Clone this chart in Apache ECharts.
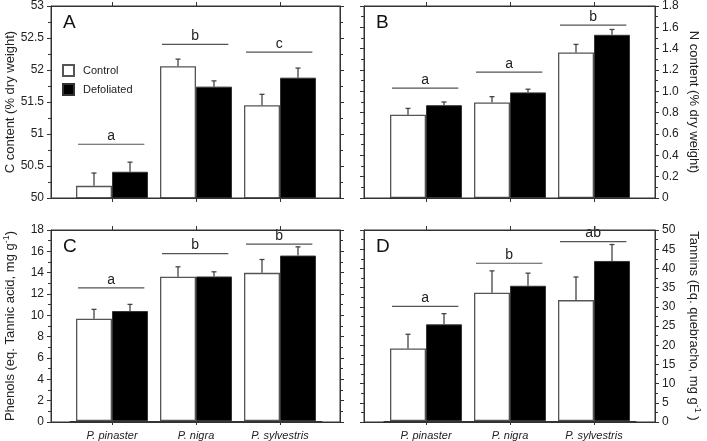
<!DOCTYPE html>
<html><head><meta charset="utf-8">
<script src="https://cdn.jsdelivr.net/npm/echarts@6/dist/echarts.min.js"></script>
<style>html,body{margin:0;padding:0;background:#fff}#c{width:707px;height:441px}</style>
</head><body><div id="c"></div>
<script>
// ---- data ----
const categories = ['P. pinaster', 'P. nigra', 'P. sylvestris'];
const seriesNames = ['Control', 'Defoliated'];

// Panel A: C content
const cControl = [50.19, 52.06, 51.45];
const cControlSE = [0.20, 0.11, 0.17];
const cDefol = [50.41, 51.74, 51.88];
const cDefolSE = [0.15, 0.09, 0.15];
const cSigY = [50.84, 52.40, 52.28];
const cSigLetters = ['a', 'b', 'c'];

// Panel B: N content
const nControl = [0.78, 0.895, 1.365];
const nControlSE = [0.06, 0.055, 0.075];
const nDefol = [0.87, 0.99, 1.53];
const nDefolSE = [0.03, 0.03, 0.05];
const nSigY = [1.03, 1.18, 1.62];
const nSigLetters = ['a', 'a', 'b'];

// Panel C: Phenols
const phControl = [9.64, 13.59, 13.96];
const phControlSE = [0.88, 0.94, 1.26];
const phDefol = [10.36, 13.62, 15.59];
const phDefolSE = [0.63, 0.44, 0.82];
const phSigY = [12.55, 15.78, 16.66];
const phSigLetters = ['a', 'b', 'b'];

// Panel D: Tannins
const tnControl = [18.96, 33.6, 31.65];
const tnControlSE = [3.74, 5.7, 6.05];
const tnDefol = [25.3, 35.4, 41.9];
const tnDefolSE = [2.8, 3.3, 4.3];
const tnSigY = [30.0, 41.3, 46.96];
const tnSigLetters = ['a', 'b', 'ab'];

// axis ranges / labels
const panelLetters = ['A', 'B', 'C', 'D'];
const yMin = [50, 0, 0, 0];
const yMax = [53, 1.8, 18, 50];
const yInterval = [0.5, 0.2, 2, 5];
const yNames = [
  '{n|C content (% dry weight)}',
  '{n|N content (% dry weight)}',
  '{n|Phenols (eq. Tannic acid, mg g}{s|-1}{n|)}',
  '{n|Tannins (Eq. quebracho, mg g}{s|-1}{n| )}'
];

// ---- layout ----
const FONT = 'Liberation Sans, Arial, Helvetica, sans-serif';
const AX = '#333';
const frames = [
  {left: 51, top: 6, width: 289, height: 192},
  {left: 364, top: 6, width: 291, height: 192},
  {left: 51, top: 230, width: 289, height: 192},
  {left: 364, top: 230, width: 291, height: 192}
];
const barAreas = [
  {left: 70, top: 6, width: 252, height: 192},
  {left: 384, top: 6, width: 252, height: 192},
  {left: 70, top: 230, width: 252, height: 192},
  {left: 384, top: 230, width: 252, height: 192}
];
const mainRight = [false, true, false, true];
const showCatLabels = [false, false, true, true];

const panels = [
  {ctl: cControl, ctlSE: cControlSE, def: cDefol, defSE: cDefolSE, sig: cSigY, let: cSigLetters},
  {ctl: nControl, ctlSE: nControlSE, def: nDefol, defSE: nDefolSE, sig: nSigY, let: nSigLetters},
  {ctl: phControl, ctlSE: phControlSE, def: phDefol, defSE: phDefolSE, sig: phSigY, let: phSigLetters},
  {ctl: tnControl, ctlSE: tnControlSE, def: tnDefol, defSE: tnDefolSE, sig: tnSigY, let: tnSigLetters}
];

const BAR_OFF = 0.2143; // bar centre offset as fraction of category band
function errRender(sign) {
  return function (params, api) {
    const i = api.value(0), v = api.value(1), se = api.value(2);
    const b = api.coord([i, v]);
    const t = api.coord([i, v + se]);
    const band = api.size([1, 0])[0];
    const x = b[0] + sign * band * BAR_OFF;
    const st = {stroke: '#444', lineWidth: 1.3};
    return {type: 'group', children: [
      {type: 'line', shape: {x1: x, y1: b[1], x2: x, y2: t[1]}, style: st},
      {type: 'line', shape: {x1: x - 2.5, y1: t[1], x2: x + 2.5, y2: t[1]}, style: st}
    ]};
  };
}
function sigRender(letters) {
  return function (params, api) {
    const i = api.value(0), y = api.value(1);
    const p = api.coord([i, y]);
    const band = api.size([1, 0])[0];
    const x1 = p[0] - band * 0.405, x2 = p[0] + band * 0.385;
    return {type: 'group', children: [
      {type: 'line', shape: {x1: x1, y1: p[1], x2: x2, y2: p[1]}, style: {stroke: '#555', lineWidth: 1.2}},
      {type: 'text', x: (x1 + x2) / 2, y: p[1] - 1, style: {text: letters[params.dataIndex], fill: '#222',
        font: '14px ' + FONT, textAlign: 'center', textVerticalAlign: 'bottom'}}
    ]};
  };
}

const lineOn = () => ({show: true, onZero: false, lineStyle: {color: AX, width: 1}});
const grid = [], xAxis = [], yAxis = [], series = [], graphic = [];
panels.forEach((p, k) => {
  const gF = grid.length;
  grid.push(Object.assign({show: true, z: 10, borderColor: AX, borderWidth: 1, backgroundColor: 'rgba(0,0,0,0)'}, frames[k]));
  const gB = grid.length; grid.push(barAreas[k]);
  // frame x axes (lines only)
  ['bottom', 'top'].forEach(pos => xAxis.push({gridIndex: gF, type: 'value', min: 0, max: 1, position: pos, z: 10,
    axisLine: lineOn(), axisTick: {show: false},
    axisLabel: {show: false}, splitLine: {show: false}}));
  // category axes (ticks at category centres)
  const xiBar = xAxis.length;
  xAxis.push({gridIndex: gB, type: 'category', data: categories, position: 'bottom', z: 10,
    axisLine: lineOn(),
    axisTick: {show: true, alignWithLabel: true, length: 4, lineStyle: {color: AX}},
    axisLabel: {show: showCatLabels[k], fontFamily: FONT, fontSize: 11, fontStyle: 'italic', color: '#222', margin: 9}});
  xAxis.push({gridIndex: gB, type: 'category', data: categories, position: 'top', z: 10,
    axisLine: lineOn(),
    axisTick: {show: true, alignWithLabel: true, length: 4, lineStyle: {color: AX}},
    axisLabel: {show: false}});
  const common = () => ({type: 'value', min: yMin[k], max: yMax[k], interval: yInterval[k], z: 10,
    splitLine: {show: false},
    axisLine: lineOn(),
    axisTick: {show: true, length: 4, lineStyle: {color: AX}},
    minorTick: {show: true, splitNumber: 2, length: 3, lineStyle: {color: AX}}});
  yAxis.push(Object.assign({gridIndex: gF}, common(), {
    position: mainRight[k] ? 'right' : 'left',
    name: yNames[k], nameLocation: 'middle', nameRotate: mainRight[k] ? -90 : 90,
    nameGap: mainRight[k] ? 31 : 33,
    nameTextStyle: {fontFamily: FONT, color: '#222', rich: {
      n: {fontFamily: FONT, fontSize: 13, color: '#222', lineHeight: 16},
      s: {fontFamily: FONT, fontSize: 9, color: '#222', verticalAlign: 'top', lineHeight: 16}}},
    axisLabel: {fontFamily: FONT, fontSize: 12, color: '#222', margin: 7,
      formatter: k === 1 ? (v => v === 0 ? '0' : v.toFixed(1)) : null}}));
  yAxis.push(Object.assign({gridIndex: gF}, common(), {
    position: mainRight[k] ? 'left' : 'right', axisLabel: {show: false}}));
  const yiBar = yAxis.length;
  yAxis.push({gridIndex: gB, type: 'value', min: yMin[k], max: yMax[k], show: false});

  series.push({type: 'bar', name: seriesNames[0], xAxisIndex: xiBar, yAxisIndex: yiBar, data: p.ctl,
    barGap: '0%', barCategoryGap: '14.3%',
    itemStyle: {color: '#fff', borderColor: '#555', borderWidth: 1.3}});
  series.push({type: 'bar', name: seriesNames[1], xAxisIndex: xiBar, yAxisIndex: yiBar, data: p.def,
    barGap: '0%', barCategoryGap: '14.3%',
    itemStyle: {color: '#000', borderColor: '#333', borderWidth: 1}});
  series.push({type: 'custom', name: 'errC' + k, xAxisIndex: xiBar, yAxisIndex: yiBar, z: 5,
    renderItem: errRender(-1), data: p.ctl.map((v, i) => [i, v, p.ctlSE[i]])});
  series.push({type: 'custom', name: 'errD' + k, xAxisIndex: xiBar, yAxisIndex: yiBar, z: 5,
    renderItem: errRender(1), data: p.def.map((v, i) => [i, v, p.defSE[i]])});
  series.push({type: 'custom', name: 'sig' + k, xAxisIndex: xiBar, yAxisIndex: yiBar, z: 5,
    renderItem: sigRender(p.let), data: p.sig.map((v, i) => [i, v])});

  // panel frame outline (layout only) and panel letter
  graphic.push({type: 'rect', z: 100, silent: true,
    shape: {x: frames[k].left + 0.5, y: frames[k].top + 0.5, width: frames[k].width, height: frames[k].height},
    style: {fill: null, stroke: AX, lineWidth: 1}});
  graphic.push({type: 'text', left: frames[k].left + 12, top: frames[k].top + 7,
    style: {text: panelLetters[k], font: '19px ' + FONT, fill: '#111'}});
});

const chart = echarts.init(document.getElementById('c'), null, {renderer: 'canvas'});
chart.setOption({
  animation: false,
  backgroundColor: '#fff',
  grid: grid,
  xAxis: xAxis,
  yAxis: yAxis,
  legend: {data: seriesNames, left: 57, top: 59, orient: 'vertical', itemWidth: 11, itemHeight: 11,
    itemGap: 6, icon: 'rect', selectedMode: false,
    textStyle: {fontFamily: FONT, fontSize: 11, color: '#222', padding: [0, 0, 0, 4]}},
  series: series,
  graphic: graphic
});
</script>
</body></html>
